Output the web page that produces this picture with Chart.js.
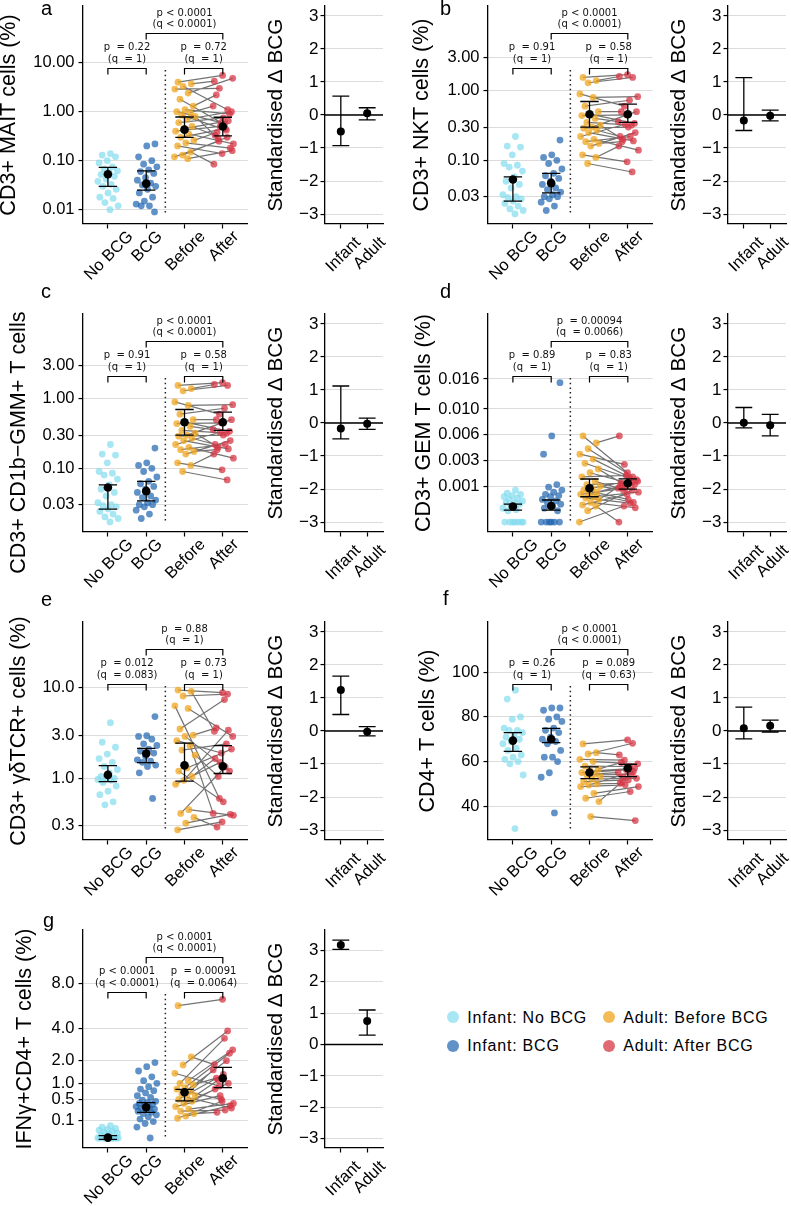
<!DOCTYPE html>
<html>
<head>
<meta charset="utf-8">
<title>BCG T cell panels</title>
<script src="https://cdn.jsdelivr.net/npm/chart.js@4.4.0/dist/chart.umd.min.js"></script>
<style>
  body { margin: 0; background: #fff; }
  #page { position: relative; width: 791px; height: 1206px; overflow: hidden; font-family: "Liberation Sans", Arial, sans-serif; color: #000; }
  canvas { position: absolute; }
  .tag { position: absolute; font-size: 20px; line-height: 20px; }
  .dot { position: absolute; width: 12px; height: 12px; border-radius: 50%; }
  .key { position: absolute; font-size: 16px; line-height: 20px; letter-spacing: 0.8px; white-space: nowrap; }
</style>
</head>
<body>
<div id="page"></div>
<script>
const groups = ['No BCG', 'BCG', 'Before', 'After'];
const deltaGroups = ['Infant', 'Adult'];
const deltaTicks = [-3, -2, -1, 0, 1, 2, 3];

// a: CD3+ MAIT cells
const aNoBcg = [0.14, 0.13, 0.12, 0.10, 0.09, 0.075, 0.068, 0.062, 0.058, 0.052, 0.048, 0.042, 0.038, 0.033, 0.030, 0.026, 0.022, 0.018, 0.017, 0.014, 0.012, 0.010];
const aBcg = [0.22, 0.20, 0.12, 0.10, 0.085, 0.075, 0.065, 0.060, 0.055, 0.045, 0.040, 0.035, 0.032, 0.030, 0.026, 0.022, 0.018, 0.015, 0.013, 0.012, 0.012, 0.009];
const aBefore = [4.0, 3.7, 3.3, 2.9, 2.4, 1.8, 1.3, 1.1, 1.0, 0.95, 0.85, 0.8, 0.7, 0.6, 0.5, 0.45, 0.4, 0.35, 0.3, 0.26, 0.23, 0.2, 0.15, 0.13, 0.12, 0.11];
const aAfter = [5.5, 4.2, 1.1, 3.0, 4.8, 0.55, 2.2, 0.9, 0.6, 1.3, 0.42, 0.28, 1.0, 0.75, 0.33, 0.65, 0.5, 0.22, 0.45, 0.38, 0.18, 0.14, 0.085, 0.3, 0.25, 0.16];
const aMean = [0.053, 0.034, 0.43, 0.50];
const aLo = [0.030, 0.025, 0.30, 0.32];
const aHi = [0.073, 0.062, 0.78, 0.77];
const aDelta = [-0.50, 0.05];
const aDeltaLo = [-0.93, -0.15];
const aDeltaHi = [0.57, 0.22];
const aTicks = [0.01, 0.1, 1, 10];
const aTickText = ['0.01', '0.10', '1.00', '10.00'];
const aStats = ['p < 0.0001', '(q < 0.0001)', 'p  = 0.22', '(q  = 1)', 'p  = 0.72', '(q  = 1)'];

// b: CD3+ NKT cells
const bNoBcg = [0.22, 0.16, 0.155, 0.12, 0.09, 0.085, 0.08, 0.07, 0.058, 0.05, 0.045, 0.04, 0.032, 0.03, 0.029, 0.028, 0.026, 0.024, 0.022, 0.02, 0.019, 0.017];
const bBcg = [0.195, 0.12, 0.11, 0.10, 0.09, 0.075, 0.065, 0.06, 0.055, 0.05, 0.045, 0.04, 0.038, 0.035, 0.032, 0.03, 0.03, 0.028, 0.025, 0.022, 0.019];
const bBefore = [1.55, 1.4, 1.3, 0.9, 0.8, 0.6, 0.5, 0.46, 0.44, 0.4, 0.35, 0.32, 0.3, 0.29, 0.27, 0.25, 0.22, 0.2, 0.185, 0.175, 0.16, 0.12, 0.11, 0.09];
const bAfter = [1.7, 1.6, 1.55, 0.6, 0.82, 0.73, 0.5, 0.34, 0.45, 0.36, 0.32, 0.2, 0.5, 0.3, 0.22, 0.19, 0.33, 0.14, 0.22, 0.185, 0.25, 0.095, 0.16, 0.068];
const bMean = [0.053, 0.047, 0.46, 0.46];
const bLo = [0.026, 0.034, 0.30, 0.35];
const bHi = [0.058, 0.065, 0.70, 0.64];
const bDelta = [-0.17, -0.02];
const bDeltaLo = [-0.47, -0.18];
const bDeltaHi = [1.13, 0.15];
const bTicks = [0.03, 0.1, 0.3, 1, 3];
const bTickText = ['0.03', '0.10', '0.30', '1.00', '3.00'];
const bStats = ['p < 0.0001', '(q < 0.0001)', 'p  = 0.91', '(q  = 1)', 'p  = 0.58', '(q  = 1)'];

// c: CD3+ CD1b-GMM+ T cells (same values as b in the figure)
const cNoBcg = bNoBcg.slice();
const cBcg = bBcg.slice();
const cBefore = bBefore.slice();
const cAfter = bAfter.slice();
const cMean = [0.053, 0.047, 0.46, 0.46];
const cLo = [0.026, 0.034, 0.30, 0.35];
const cHi = [0.058, 0.065, 0.70, 0.64];
const cDelta = [-0.17, -0.02];
const cDeltaLo = [-0.48, -0.19];
const cDeltaHi = [1.12, 0.15];
const cStats = ['p < 0.0001', '(q < 0.0001)', 'p  = 0.91', '(q  = 1)', 'p  = 0.58', '(q  = 1)'];

// d: CD3+ GEM T cells
const dNoBcg = [0.0008, 0.00065, 0.0006, 0.00055, 0.0005, 0.00045, 0.0004, 0.00035, 0.0003, 0.0003, 0.00025, 0.0002, 0.00015, 0.00012, 0.0001, 0, 0, 0, 0, 0, 0, 0];
const dBcg = [0.0152, 0.0058, 0.0036, 0.0011, 0.00095, 0.0008, 0.0007, 0.0006, 0.00055, 0.0005, 0.0004, 0.00035, 0.0003, 0.00025, 0.0002, 0.00015, 0.0001, 0, 0, 0, 0, 0, 0];
const dBefore = [0.0058, 0.0049, 0.0042, 0.0036, 0.0031, 0.0027, 0.0022, 0.0019, 0.0016, 0.0013, 0.0011, 0.001, 0.0009, 0.0008, 0.0007, 0.00065, 0.0006, 0.0005, 0.00045, 0.0004, 0.0003, 0.00023, 0.0002, 0.0001, 0];
const dAfter = [0.0019, 0.0058, 0.0016, 0.0026, 0.0013, 0.0015, 0.0012, 0.0011, 0.0017, 0.0009, 0.0012, 0.0008, 0.0014, 0.0004, 0.001, 0.0003, 0.0009, 0.0007, 0.00028, 0.0011, 0.00016, 0.0006, 0, 0.0008, 0.0002];
const dMean = [0.00019, 0.0002, 0.00089, 0.00118];
const dLo = [0.00011, 0.00011, 0.0005, 0.00085];
const dHi = [0.00025, 0.00038, 0.00145, 0.00146];
const dDelta = [0.01, -0.07];
const dDeltaLo = [-0.15, -0.39];
const dDeltaHi = [0.47, 0.26];
const dTicks = [0.001, 0.003, 0.006, 0.010, 0.016];
const dTickText = ['0.001', '0.003', '0.006', '0.010', '0.016'];
const dStats = ['p  = 0.00094', '(q  = 0.0066)', 'p  = 0.89', '(q  = 1)', 'p  = 0.83', '(q  = 1)'];

// e: CD3+ gamma-delta TCR+ cells
const eNoBcg = [4.1, 2.5, 2.2, 1.85, 1.65, 1.5, 1.35, 1.25, 1.15, 1.05, 1.0, 1.0, 0.97, 0.95, 0.9, 0.82, 0.72, 0.66, 0.55, 0.51];
const eBcg = [4.8, 2.95, 2.9, 2.7, 2.4, 2.3, 2.1, 2.0, 1.9, 1.75, 1.6, 1.55, 1.5, 1.4, 1.35, 1.15, 0.6];
const eBefore = [9.4, 9.1, 8.1, 6.3, 5.9, 3.5, 3.0, 2.9, 2.6, 2.3, 2.05, 1.8, 1.3, 1.2, 1.05, 0.95, 0.86, 0.45, 0.41, 0.37, 0.32, 0.27];
const eAfter = [8.8, 3.3, 8.5, 0.6, 2.9, 7.4, 3.6, 1.2, 1.9, 0.41, 2.4, 1.05, 2.1, 0.55, 1.65, 3.4, 1.5, 0.39, 1.34, 0.29, 0.4, 0.33];
const eMean = [1.09, 1.88, 1.39, 1.36];
const eLo = [0.92, 1.49, 0.93, 1.13];
const eHi = [1.38, 2.14, 2.45, 2.29];
const eDelta = [1.24, -0.02];
const eDeltaLo = [0.50, -0.15];
const eDeltaHi = [1.66, 0.13];
const eTicks = [0.3, 1, 3, 10];
const eTickText = ['0.3', '1.0', '3.0', '10.0'];
const eStats = ['p  = 0.88', '(q  = 1)', 'p  = 0.012', '(q  = 0.083)', 'p  = 0.73', '(q  = 1)'];

// f: CD4+ T cells
const fNoBcg = [92, 88, 80, 79, 75, 74, 74, 73, 72, 71, 70, 69, 68, 66, 65, 63, 62, 61, 60, 59, 54, 30];
const fBcg = [84, 84, 83, 80, 79, 78, 75, 74, 73, 71, 70, 69, 68, 65, 62, 62, 60, 55, 53, 37];
const fBefore = [67.9, 64, 63.4, 61, 60, 58, 56.6, 55.8, 55.1, 54.5, 54, 53.3, 52.2, 51, 50, 49.5, 48.8, 45.8, 43.6, 42.1, 35.4];
const fAfter = [69.7, 63, 68.2, 60.7, 59, 57.8, 59.6, 57, 56.3, 55.1, 54.3, 53.3, 52.5, 51.8, 50.3, 55.5, 49.6, 48.8, 46.6, 51, 33.6];
const fMean = [69.4, 70, 55.1, 57];
const fLo = [64.6, 68.5, 52.4, 53.3];
const fHi = [73, 74.9, 57.6, 58.8];
const fDelta = [0.08, 0.16];
const fDeltaLo = [-0.24, -0.03];
const fDeltaHi = [0.72, 0.33];
const fTicks = [40, 60, 80, 100];
const fTickText = ['40', '60', '80', '100'];
const fStats = ['p < 0.0001', '(q < 0.0001)', 'p  = 0.26', '(q  = 1)', 'p  = 0.089', '(q  = 0.63)'];

// g: IFNg+CD4+ T cells
const gNoBcg = [0.05, 0.04, 0.03, 0.025, 0.02, 0.015, 0.01, 0.008, 0.005, 0.003, 0, 0, 0, 0, 0, 0, 0, 0, 0, 0, 0, 0];
const gBcg = [1.9, 1.7, 1.5, 1.25, 1.1, 1.0, 0.88, 0.8, 0.75, 0.68, 0.6, 0.55, 0.48, 0.45, 0.42, 0.4, 0.38, 0.35, 0.33, 0.31, 0.3, 0.28, 0.26, 0.24, 0.22, 0.2, 0.18, 0.15, 0.12, 0.09, 0.07, 0.04, 0];
const gBefore = [5.85, 2.2, 1.78, 1.4, 1.1, 1.0, 0.95, 0.85, 0.8, 0.72, 0.65, 0.6, 0.55, 0.5, 0.45, 0.4, 0.33, 0.28, 0.24, 0.2, 0.16, 0.13];
const gAfter = [6.43, 1.8, 3.83, 0.9, 2.6, 3.32, 1.2, 2.4, 0.5, 1.55, 2.0, 1.12, 0.3, 1.35, 0.8, 1.0, 0.6, 0.4, 0.26, 0.22, 0.35, 0.45];
const gMean = [0.00005, 0.315, 0.70, 1.19];
const gLo = [-0.0006, 0.22, 0.46, 0.85];
const gHi = [0.0018, 0.417, 0.79, 1.67];
const gDelta = [3.17, 0.75];
const gDeltaLo = [3.03, 0.30];
const gDeltaHi = [3.33, 1.10];
const gTicks = [0.1, 0.5, 1, 2, 4, 8];
const gTickText = ['0.1', '0.5', '1.0', '2.0', '4.0', '8.0'];
const gStats = ['p < 0.0001', '(q < 0.0001)', 'p < 0.0001', '(q < 0.0001)', 'p  = 0.00091', '(q  = 0.0064)'];

// ---- layout and style ----
const fill = ['rgba(130,220,238,0.7)', 'rgba(30,100,175,0.7)', 'rgba(240,165,30,0.75)', 'rgba(215,55,70,0.75)'];
const rowTop = [6, 314, 622, 930];
const colMain = [83, 488];
const colDelta = [325, 728];
const plotW = 165, plotH = 218, deltaW = 58, labH = 62;

const transforms = {
  log: v => Math.log10(v),
  sqrt: v => Math.sign(v) * Math.sqrt(Math.abs(v)),
  lin: v => v
};

const panels = [
  { tag: 'a', col: 0, row: 0, title: 'CD3+ MAIT cells (%)', scale: 'log', yMin: -2.292, yMax: 2.157, yW: 85,
    pts: [aNoBcg, aBcg, aBefore, aAfter], mean: aMean, lo: aLo, hi: aHi, ticks: aTicks, tickText: aTickText, stats: aStats,
    delta: aDelta, dLo: aDeltaLo, dHi: aDeltaHi, dMax: 3.3 },
  { tag: 'b', col: 1, row: 0, title: 'CD3+ NKT cells (%)', scale: 'log', yMin: -1.915, yMax: 1.217, yW: 77,
    pts: [bNoBcg, bBcg, bBefore, bAfter], mean: bMean, lo: bLo, hi: bHi, ticks: bTicks, tickText: bTickText, stats: bStats,
    delta: bDelta, dLo: bDeltaLo, dHi: bDeltaHi, dMax: 3.3 },
  { tag: 'c', col: 0, row: 1, title: 'CD3+ CD1b\u2212GMM+ T cells (%)', scale: 'log', yMin: -1.915, yMax: 1.217, yW: 75,
    pts: [cNoBcg, cBcg, cBefore, cAfter], mean: cMean, lo: cLo, hi: cHi, ticks: bTicks, tickText: bTickText, stats: cStats,
    delta: cDelta, dLo: cDeltaLo, dHi: cDeltaHi, dMax: 3.3 },
  { tag: 'd', col: 1, row: 1, title: 'CD3+ GEM T cells (%)', scale: 'sqrt', yMin: -0.0088, yMax: 0.184, yW: 75,
    pts: [dNoBcg, dBcg, dBefore, dAfter], mean: dMean, lo: dLo, hi: dHi, ticks: dTicks, tickText: dTickText, stats: dStats,
    delta: dDelta, dLo: dDeltaLo, dHi: dDeltaHi, dMax: 3.3 },
  { tag: 'e', col: 0, row: 2, title: 'CD3+ \u03b3\u03b4TCR+ cells (%)', scale: 'log', yMin: -0.681, yMax: 1.725, yW: 75,
    pts: [eNoBcg, eBcg, eBefore, eAfter], mean: eMean, lo: eLo, hi: eHi, ticks: eTicks, tickText: eTickText, stats: eStats,
    delta: eDelta, dLo: eDeltaLo, dHi: eDeltaHi, dMax: 3.3 },
  { tag: 'f', col: 1, row: 2, title: 'CD4+ T cells (%)', scale: 'lin', yMin: 24.9, yMax: 122.5, yW: 71,
    pts: [fNoBcg, fBcg, fBefore, fAfter], mean: fMean, lo: fLo, hi: fHi, ticks: fTicks, tickText: fTickText, stats: fStats,
    delta: fDelta, dLo: fDeltaLo, dHi: fDeltaHi, dMax: 3.3 },
  { tag: 'g', col: 0, row: 3, title: 'IFN\u03b3+CD4+ T cells (%)', scale: 'sqrt', yMin: -0.183, yMax: 3.803, yW: 69,
    pts: [gNoBcg, gBcg, gBefore, gAfter], mean: gMean, lo: gLo, hi: gHi, ticks: gTicks, tickText: gTickText, stats: gStats,
    delta: gDelta, dLo: gDeltaLo, dHi: gDeltaHi, dMax: 3.65 }
];

const tagPos = { a: [41, -2], b: [440, -2], c: [41, 281], d: [440, 281], e: [41, 589], f: [443, 588], g: [43, 910] };

Chart.defaults.font.family = '"Liberation Sans", Arial, sans-serif';
Chart.defaults.color = '#000';

const page = document.getElementById('page');

function addCanvas(left, top, w, h) {
  const c = document.createElement('canvas');
  c.width = w;
  c.height = h;
  c.style.left = left + 'px';
  c.style.top = top + 'px';
  c.style.width = w + 'px';
  c.style.height = h + 'px';
  page.appendChild(c);
  return c;
}

// deterministic horizontal spread so points of a group don't sit on one line
function jitter(g, i) {
  const u = ((i + 1) * 0.618034 + g * 0.29) % 1;
  return (u - 0.5) * 0.56;
}

// rotated category labels, centred under the tick like the original
const xLabels = {
  id: 'xLabels',
  afterDraw(chart, args, opts) {
    const { ctx } = chart;
    const s = chart.scales.x;
    ctx.save();
    ctx.font = '16.5px "Liberation Sans", Arial, sans-serif';
    ctx.fillStyle = '#000';
    ctx.textAlign = 'center';
    ctx.textBaseline = 'middle';
    opts.labels.forEach((t, i) => {
      const w = ctx.measureText(t).width;
      ctx.save();
      ctx.translate(s.getPixelForValue(i) + opts.dx, s.top + opts.dy + w * 0.354);
      ctx.rotate(-Math.PI / 4);
      ctx.fillText(t, 0, 0);
      ctx.restore();
    });
    ctx.restore();
  }
};

// dotted divider plus significance brackets and p/q text
const stats = {
  id: 'stats',
  beforeDatasetsDraw(chart) {
    const { ctx, chartArea: ca } = chart;
    const px = chart.scales.x.getPixelForValue(1.5);
    ctx.save();
    ctx.strokeStyle = '#222';
    ctx.lineWidth = 1.5;
    ctx.setLineDash([1.5, 3.2]);
    ctx.beginPath();
    ctx.moveTo(px, ca.top + 64);
    ctx.lineTo(px, ca.bottom - 11);
    ctx.stroke();
    ctx.restore();
  },
  afterDatasetsDraw(chart, args, opts) {
    const { ctx, chartArea: ca } = chart;
    const X = v => chart.scales.x.getPixelForValue(v);
    const t = ca.top;
    const s = opts.text;
    ctx.save();
    ctx.strokeStyle = '#000';
    ctx.lineWidth = 1.2;
    const bracket = (i0, i1, y) => {
      ctx.beginPath();
      ctx.moveTo(X(i0), y + 6);
      ctx.lineTo(X(i0), y);
      ctx.lineTo(X(i1), y);
      ctx.lineTo(X(i1), y + 6);
      ctx.stroke();
    };
    bracket(1, 3, t + 27.5);
    bracket(0, 1, t + 62.5);
    bracket(2, 3, t + 62.5);
    ctx.font = '10px "DejaVu Sans", sans-serif';
    ctx.fillStyle = '#111';
    ctx.textAlign = 'center';
    ctx.textBaseline = 'middle';
    ctx.fillText(s[0], X(2), t + 7);
    ctx.fillText(s[1], X(2), t + 18.5);
    ctx.fillText(s[2], X(0.5), t + 41.5);
    ctx.fillText(s[3], X(0.5), t + 53);
    ctx.fillText(s[4], X(2.5), t + 41.5);
    ctx.fillText(s[5], X(2.5), t + 53);
    ctx.restore();
  }
};

function errorBars(xs, lo, hi, tf, cap) {
  const d = [];
  xs.forEach((x, i) => {
    const a = tf(lo[i]), b = tf(hi[i]);
    d.push({ x, y: a }, { x, y: b }, { x, y: null },
           { x: x - cap, y: a }, { x: x + cap, y: a }, { x, y: null },
           { x: x - cap, y: b }, { x: x + cap, y: b }, { x, y: null });
  });
  return { type: 'line', data: d, borderColor: '#000', borderWidth: 1.3, pointRadius: 0, spanGaps: false, order: 1 };
}

function xAxis(n, lo, hi) {
  return {
    type: 'linear', min: lo, max: hi,
    afterBuildTicks: s => { s.ticks = Array.from({ length: n }, (_, i) => ({ value: i })); },
    afterFit: s => { s.height = labH; s.paddingLeft = 0; s.paddingRight = 0; },
    ticks: { display: false },
    grid: { drawOnChartArea: false, tickColor: '#000', tickLength: 4.5, tickWidth: 1.2 },
    border: { color: '#000', width: 1.3 }
  };
}

function yAxis(opts) {
  return {
    type: 'linear', min: opts.min, max: opts.max,
    afterBuildTicks: s => { s.ticks = opts.ticks.map(v => ({ value: v })); },
    afterFit: s => { s.width = opts.width; s.paddingTop = 0; s.paddingBottom = 0; },
    ticks: { callback: (v, i) => opts.text[i], font: { size: opts.size }, color: '#000', padding: opts.pad },
    grid: { color: '#dcdcdc', lineWidth: 1.1, tickColor: '#000', tickLength: 4.5, tickWidth: 1.2 },
    border: { color: '#000', width: 1.3 },
    title: { display: true, text: opts.title, font: { size: opts.titleSize, lineHeight: 1 }, color: '#000', padding: 0 }
  };
}

function mainChart(p) {
  const tf = transforms[p.scale];
  const ax = colMain[p.col], top = rowTop[p.row];
  const canvas = addCanvas(ax - p.yW, top - 6, p.yW + plotW + 4, 6 + plotH + labH);

  const jit = p.pts.map((arr, g) => arr.map((_, i) => jitter(g, i)));
  const pairs = [];
  p.pts[2].forEach((v, i) => {
    pairs.push({ x: 2 + jit[2][i], y: tf(v) }, { x: 3 + jit[3][i], y: tf(p.pts[3][i]) }, { x: 2.5, y: null });
  });

  const datasets = [
    { type: 'line', data: pairs, borderColor: 'rgba(100,100,100,0.9)', borderWidth: 1.2, pointRadius: 0, spanGaps: false, order: 3 }
  ];
  p.pts.forEach((arr, g) => {
    datasets.push({ type: 'scatter', data: arr.map((v, i) => ({ x: g + jit[g][i], y: tf(v) })),
      backgroundColor: fill[g], borderWidth: 0, pointRadius: 3.4, order: 2 });
  });
  datasets.push(errorBars([0, 1, 2, 3], p.lo, p.hi, tf, 0.24));
  datasets.push({ type: 'scatter', data: p.mean.map((v, g) => ({ x: g, y: tf(v) })),
    backgroundColor: '#000', borderWidth: 0, pointRadius: 4.3, order: 0 });

  new Chart(canvas, {
    type: 'scatter',
    data: { datasets },
    options: {
      responsive: false, animation: false, events: [],
      layout: { padding: { top: 6, right: 4, left: 0, bottom: 0 } },
      plugins: { legend: { display: false }, tooltip: { enabled: false },
        xLabels: { labels: groups, dx: 1, dy: 10 }, stats: { text: p.stats } },
      scales: {
        x: xAxis(4, -0.65, 3.65),
        y: yAxis({ min: p.yMin, max: p.yMax, ticks: p.ticks.map(tf), text: p.tickText, width: p.yW,
                   size: 16.5, pad: 4, title: p.title, titleSize: 21.5 })
      }
    },
    plugins: [xLabels, stats]
  });
}

function deltaChart(p) {
  const ax = colDelta[p.col], top = rowTop[p.row];
  const yW = 59;
  const canvas = addCanvas(ax - yW, top - 6, yW + deltaW + 4, 6 + plotH + labH);
  new Chart(canvas, {
    type: 'scatter',
    data: { datasets: [
      { type: 'line', data: [{ x: -0.6, y: 0 }, { x: 1.6, y: 0 }], borderColor: '#000', borderWidth: 1.3, pointRadius: 0, order: 2 },
      errorBars([0, 1], p.dLo, p.dHi, v => v, 0.32),
      { type: 'scatter', data: p.delta.map((v, i) => ({ x: i, y: v })), backgroundColor: '#000', borderWidth: 0, pointRadius: 4, order: 0 }
    ] },
    options: {
      responsive: false, animation: false, events: [],
      layout: { padding: { top: 6, right: 4, left: 0, bottom: 0 } },
      plugins: { legend: { display: false }, tooltip: { enabled: false },
        xLabels: { labels: deltaGroups, dx: 2.5, dy: 16 } },
      scales: {
        x: xAxis(2, -0.6, 1.6),
        y: yAxis({ min: -3.3, max: p.dMax, ticks: deltaTicks, text: deltaTicks.map(v => v < 0 ? '\u2212' + (-v) : String(v)),
                   width: yW, size: 17, pad: 2, title: 'Standardised \u0394 BCG', titleSize: 20.8 })
      }
    },
    plugins: [xLabels]
  });
}

panels.forEach(p => {
  mainChart(p);
  deltaChart(p);
  const t = document.createElement('div');
  t.className = 'tag';
  t.textContent = p.tag;
  t.style.left = tagPos[p.tag][0] + 'px';
  t.style.top = tagPos[p.tag][1] + 'px';
  page.appendChild(t);
});

// legend
const legendText = ['Infant: No BCG', 'Infant: BCG', 'Adult: Before BCG', 'Adult: After BCG'];
const legendAt = [[453.3, 1017.3], [453.3, 1045.7], [609.3, 1017.3], [609.3, 1045.7]];
legendText.forEach((txt, i) => {
  const [cx, cy] = legendAt[i];
  const d = document.createElement('div');
  d.className = 'dot';
  d.style.left = (cx - 6) + 'px';
  d.style.top = (cy - 6) + 'px';
  d.style.background = fill[i];
  page.appendChild(d);
  const k = document.createElement('div');
  k.className = 'key';
  k.textContent = txt;
  k.style.left = (cx + 14) + 'px';
  k.style.top = (cy - 9.5) + 'px';
  page.appendChild(k);
});
</script>
</body>
</html>
